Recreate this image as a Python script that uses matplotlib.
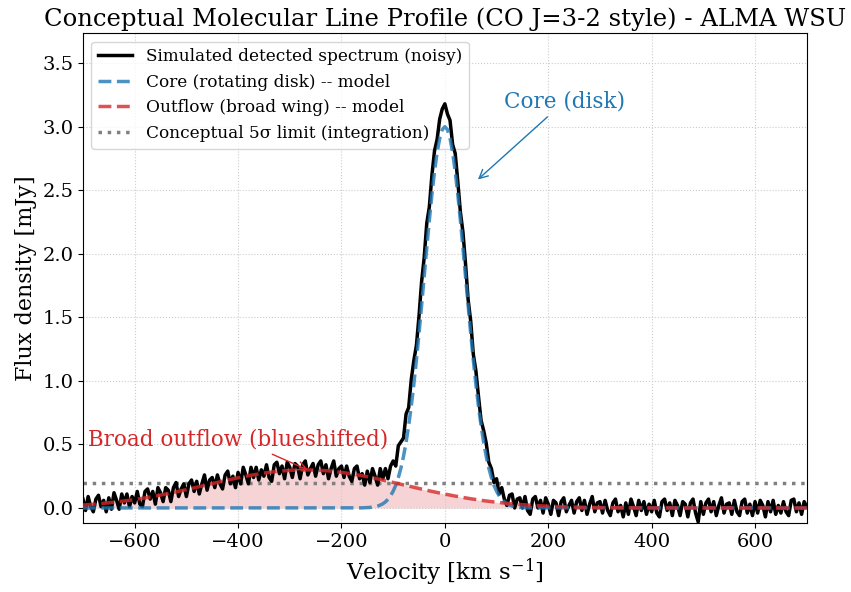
import numpy as np
import matplotlib
matplotlib.use("Agg")
import matplotlib.pyplot as plt

plt.rcParams['font.family'] = ['DejaVu Serif']
plt.rcParams['mathtext.fontset'] = 'dejavuserif'

# ---------------- data ----------------
spec_velocity = np.arange(-700, 701, 5)
spec_flux = [
    0.07, -0.02, 0.09, 0.01, -0.03, 0.07, 0.10, 0.01, 0.06, -0.03,
    0.08, -0.01, 0.12, 0.06, -0.01, 0.11, 0.04, 0.11, 0.01, 0.09,
    0.04, 0.13, 0.03, 0.01, 0.13, 0.15, 0.07, 0.13, 0.03, 0.16,
    0.12, 0.05, 0.16, 0.14, 0.05, 0.16, 0.20, 0.09, 0.15, 0.19,
    0.09, 0.19, 0.22, 0.13, 0.21, 0.11, 0.19, 0.26, 0.14, 0.22,
    0.24, 0.16, 0.26, 0.19, 0.15, 0.26, 0.29, 0.19, 0.25, 0.16,
    0.28, 0.19, 0.32, 0.26, 0.19, 0.32, 0.24, 0.32, 0.22, 0.30,
    0.25, 0.34, 0.24, 0.21, 0.34, 0.36, 0.27, 0.33, 0.23, 0.36,
    0.32, 0.24, 0.35, 0.33, 0.23, 0.34, 0.37, 0.26, 0.31, 0.35,
    0.25, 0.34, 0.37, 0.27, 0.34, 0.23, 0.31, 0.37, 0.25, 0.31,
    0.33, 0.24, 0.33, 0.25, 0.21, 0.31, 0.33, 0.23, 0.27, 0.18,
    0.29, 0.20, 0.31, 0.25, 0.18, 0.31, 0.23, 0.31, 0.23, 0.33,
    0.37, 0.33, 0.49, 0.52, 0.55, 0.74, 0.79, 1.01, 1.16, 1.28,
    1.51, 1.78, 1.97, 2.24, 2.37, 2.62, 2.81, 2.90, 3.06, 3.14,
    3.18, 3.10, 3.05, 2.86, 2.79, 2.57, 2.33, 2.17, 1.92, 1.64,
    1.47, 1.21, 1.08, 0.88, 0.69, 0.61, 0.51, 0.36, 0.31, 0.20,
    0.23, 0.11, 0.16, 0.07, 0.02, 0.10, 0.11, 0.00, 0.07, 0.08,
    0.00, 0.09, -0.02, -0.05, 0.07, 0.09, 0.00, 0.06, -0.04, 0.08,
    0.03, -0.05, 0.06, 0.04, -0.06, 0.05, 0.08, -0.03, 0.02, 0.06,
    -0.04, 0.05, 0.08, -0.02, 0.06, -0.05, 0.03, 0.09, -0.03, 0.04,
    0.05, -0.04, 0.06, -0.02, -0.06, 0.04, 0.07, -0.03, 0.02, -0.07,
    0.04, -0.05, 0.07, 0.01, -0.06, 0.06, -0.02, 0.05, -0.05, 0.03,
    -0.03, 0.06, -0.04, -0.07, 0.05, 0.07, -0.02, 0.04, -0.06, 0.06,
    0.02, -0.06, 0.05, 0.03, -0.07, 0.04, 0.07, -0.04, -0.11, 0.05,
    -0.05, 0.04, 0.07, -0.03, 0.05, -0.06, 0.02, 0.08, -0.04, 0.03,
    0.04, -0.05, 0.06, -0.03, -0.06, 0.05, 0.07, -0.04, 0.03, -0.06,
    0.05, -0.04, 0.06, 0.02, -0.07, 0.05, -0.03, 0.06, -0.05, 0.02,
    -0.04, 0.05, -0.03, -0.06, 0.06, 0.07, -0.03, 0.04, -0.05, 0.05,
    0.01,
]

core_velocity = np.concatenate(([-700], np.arange(-160, 161, 5), [700]))
core_flux = [
    0.0,
    0.001, 0.002, 0.003, 0.004, 0.007, 0.010, 0.015, 0.023, 0.033, 0.048,
    0.068, 0.096, 0.132, 0.179, 0.239, 0.314, 0.406, 0.517, 0.649, 0.801,
    0.974, 1.166, 1.373, 1.593, 1.820, 2.046, 2.265, 2.468, 2.648, 2.796,
    2.908, 2.977, 3.000, 2.977, 2.908, 2.796, 2.648, 2.468, 2.265, 2.046,
    1.820, 1.593, 1.373, 1.166, 0.974, 0.801, 0.649, 0.517, 0.406, 0.314,
    0.239, 0.179, 0.132, 0.096, 0.068, 0.048, 0.033, 0.023, 0.015, 0.010,
    0.007, 0.004, 0.003, 0.002, 0.001,
    0.0,
]

outflow_velocity = np.arange(-700, 701, 25)
outflow_flux = [
    0.0232, 0.0309, 0.0406, 0.0524, 0.0664, 0.0827, 0.1013, 0.1219, 0.1442,
    0.1676, 0.1915, 0.2151, 0.2374, 0.2575, 0.2746, 0.2877, 0.2963, 0.2999,
    0.2983, 0.2917, 0.2803, 0.2648, 0.2458, 0.2242, 0.2010, 0.1772, 0.1535,
    0.1306, 0.1093, 0.0899, 0.0726, 0.0577, 0.0450, 0.0346, 0.0261, 0.0193,
    0.0141, 0.0101, 0.0071, 0.0049, 0.0033, 0.0022, 0.0014, 0.0009, 0.0006,
    0.0004, 0.0002, 0.0001, 0.0001, 0.0, 0.0, 0.0, 0.0, 0.0, 0.0, 0.0, 0.0,
]

sigma5_limit = 0.2

# ---------------- plot ----------------
fig = plt.figure(figsize=(8.51, 5.92), dpi=100)
ax = fig.add_axes([0.0975, 0.1166, 0.8505, 0.8274])

ax.fill_between(outflow_velocity, 0, outflow_flux, color='tab:red', alpha=0.2,
                linewidth=0, zorder=1)
ax.plot(spec_velocity, spec_flux, color='black', lw=2.5,
        label='Simulated detected spectrum (noisy)', zorder=3)
ax.plot(core_velocity, core_flux, color='tab:blue', ls='--', lw=2.5, alpha=0.8,
        label='Core (rotating disk) -- model', zorder=4)
ax.plot(outflow_velocity, outflow_flux, color='tab:red', ls='--', lw=2.5, alpha=0.8,
        label='Outflow (broad wing) -- model', zorder=4)
ax.axhline(sigma5_limit, color='gray', ls=':', lw=2.5,
           label='Conceptual 5σ limit (integration)', zorder=2)

ax.annotate('Core (disk)', xy=(60, 2.57), xytext=(232, 3.2),
            color='tab:blue', fontsize=15.5, ha='center', va='center',
            arrowprops=dict(arrowstyle='->', color='tab:blue', lw=1))
ax.annotate('Broad outflow (blueshifted)', xy=(-260, 0.29), xytext=(-399, 0.54),
            color='tab:red', fontsize=15.5, ha='center', va='center',
            arrowprops=dict(arrowstyle='->', color='tab:red', lw=1))

ax.set_xlim(-700, 700)
ax.set_ylim(-0.118, 3.736)
ax.set_xlabel(r'Velocity [km s$^{-1}$]', fontsize=16.5)
ax.set_ylabel('Flux density [mJy]', fontsize=16)
ax.set_title('Conceptual Molecular Line Profile (CO J=3-2 style) - ALMA WSU',
             fontsize=17.5, pad=5)
ax.tick_params(labelsize=14)
ax.grid(True, ls=':', color='#cccccc', lw=0.8)
leg = ax.legend(loc='upper left', fontsize=12.2)
leg.set_zorder(2.5)

fig.savefig('out.png', dpi=100)
